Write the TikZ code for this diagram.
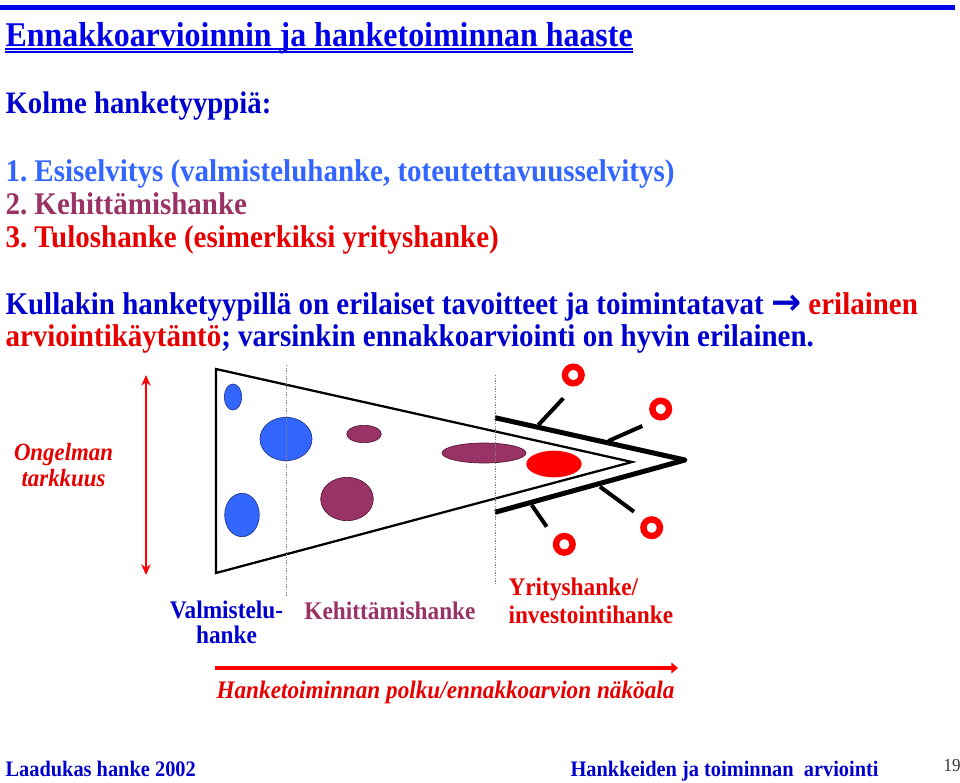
\documentclass[tikz,border=0pt]{standalone}
\usepackage{fontspec}
\setmainfont{Liberation Serif}[FakeStretch=0.921]
\newfontfamily\nuolifont{DejaVu Sans}
\usetikzlibrary{arrows.meta}

\definecolor{slideblue}{RGB}{0,0,204}
\definecolor{barblue}{RGB}{0,0,235}
\definecolor{lightblue}{RGB}{51,102,255}
\definecolor{plum}{RGB}{153,51,102}
\definecolor{slidered}{RGB}{230,0,0}
\newcommand\fsz[2][]{\fontsize{#2}{#2}\selectfont}
\newcommand\fszb[2]{\fontsize{#1}{#2}\selectfont}
\frenchspacing

\begin{document}
\begin{tikzpicture}[x=0.75pt, y=-0.75pt, thick,
  every node/.style={inner sep=0pt, anchor=base west, font=\bfseries},
  pallo/.style={draw=#1!55!black, line width=0.5pt, fill=#1},
  rengas/.style={draw=red, line width=4.8pt},
  haara/.style={line width=3pt},
  raja/.style={gray, line width=0.6pt, dash pattern=on 1pt off 1pt}]
  \useasboundingbox[fill=white] (0,0) rectangle (960,782);
  \fill[barblue] (0,5) rectangle (955,9.5);
  % otsikko ja teksti
  \node[barblue] (otsikko) at (5,46) {\fsz{26}Ennakkoarvioinnin ja hanketoiminnan haaste};
  \draw[barblue, line width=1.6pt] ([yshift=-2pt]otsikko.base west) -- ([yshift=-2pt]otsikko.base east);
  \draw[barblue, line width=1.2pt] ([yshift=-4.3pt]otsikko.base west) -- ([yshift=-4.3pt]otsikko.base east);
  \node[slideblue] (kolme) at (5,113) {\fsz{23.4}Kolme hanketyyppiä:};
  \node[lightblue] (tyyppi1) at (5,181) {\fsz{23.6}1. Esiselvitys (valmisteluhanke, toteutettavuusselvitys)};
  \node[plum] (tyyppi2) at (5,214) {\fsz{23.6}2. Kehittämishanke};
  \node[slidered] (tyyppi3) at (5,247) {\fsz{23.6}3. Tuloshanke (esimerkiksi yrityshanke)};
  \node[slideblue] (kullakin) at (5,314) {\fsz{23.6}Kullakin hanketyypillä on erilaiset tavoitteet ja toimintatavat {\nuolifont\bfseries\fsz{27}→} \textcolor{slidered}{erilainen}};
  \node[slideblue] (varsinkin) at (5,346) {\fsz{23.6}\textcolor{slidered}{arviointikäytäntö}; varsinkin ennakkoarviointi on hyvin erilainen.};
  % kolmio ja hankkeet
  \draw[line width=1.7pt] (216,369) -- (632,462) -- (216,573) -- cycle;
  \path[pallo=lightblue] (233,397) ellipse [x radius=8.7, y radius=13];
  \path[pallo=lightblue] (286,439) ellipse [x radius=26, y radius=21.7];
  \path[pallo=lightblue] (242,515) ellipse [x radius=17.3, y radius=21.7];
  \path[pallo=plum] (364,434) ellipse [x radius=17.3, y radius=8.7];
  \path[pallo=plum] (347,499) ellipse [x radius=26.3, y radius=21.7];
  \path[pallo=plum] (484,453) ellipse [x radius=42, y radius=10];
  \fill[red] (554,464) ellipse [x radius=27.7, y radius=13.3];
  \draw[line width=3.75pt, line join=round] (495,417.7) -- (685,460) -- (495,512.3);
  \draw[haara] (538.3,425) -- (563.3,398.3);
  \draw[haara] (608.3,441) -- (642.3,426);
  \draw[haara] (600,486.7) -- (634,511.7);
  \draw[haara] (531.7,505) -- (546.7,526.7);
  \foreach \p in {(573.3,375), (660.7,409), (651.7,527.7), (564.3,544.3)}
    \draw[rengas] \p circle [radius=8.3];
  \draw[raja] (286,365) -- (286,597);
  \draw[raja] (495,375) -- (495,584);
  % nuolet
  \coordinate (tarkkuus-yla) at (146,375);
  \coordinate (tarkkuus-ala) at (146,575);
  \draw[red, line width=1.5pt, {Stealth[length=8pt,width=7pt]}-{Stealth[length=8pt,width=7pt]}] (tarkkuus-yla) -- (tarkkuus-ala);
  \coordinate (polku-alku) at (215,668);
  \coordinate (polku-loppu) at (678,668);
  \draw[red, line width=3pt, -{Triangle[length=5pt,width=8pt]}] (polku-alku) -- (polku-loppu);
  \node[slidered, anchor=center, align=center, font={\bfseries\itshape\fszb{18.6}{20}}] (ongelma) at (63.5,465) {Ongelman\\tarkkuus};
  \node[slideblue, anchor=center, align=center, font={\bfseries\fszb{19}{19}}] (valmistelu) at (226.5,622.5) {Valmistelu-\\hanke};
  \node[plum, anchor=center, font={\bfseries\fsz{19}}] (kehittamis) at (390,611) {Kehittämishanke};
  \node[slidered, anchor=west, align=left, font={\bfseries\fszb{19}{21}}] (yritys) at (508,601) {Yrityshanke/\\investointihanke};
  \node[slidered, anchor=center, font={\bfseries\itshape\fsz{18.9}}] (nakoala) at (445.5,692) {Hanketoiminnan polku/ennakkoarvion näköala};
  % alatunniste
  \node[slideblue] (laadukas) at (5,776) {\fsz{16.6}Laadukas hanke 2002};
  \node[slideblue] (arviointi) at (570,776) {\fsz{16.6}Hankkeiden ja toiminnan\ \ arviointi};
  \node[black!80, font={\mdseries\fsz{13.8}}] (sivu) at (943,771) {19};
\end{tikzpicture}
\end{document}
